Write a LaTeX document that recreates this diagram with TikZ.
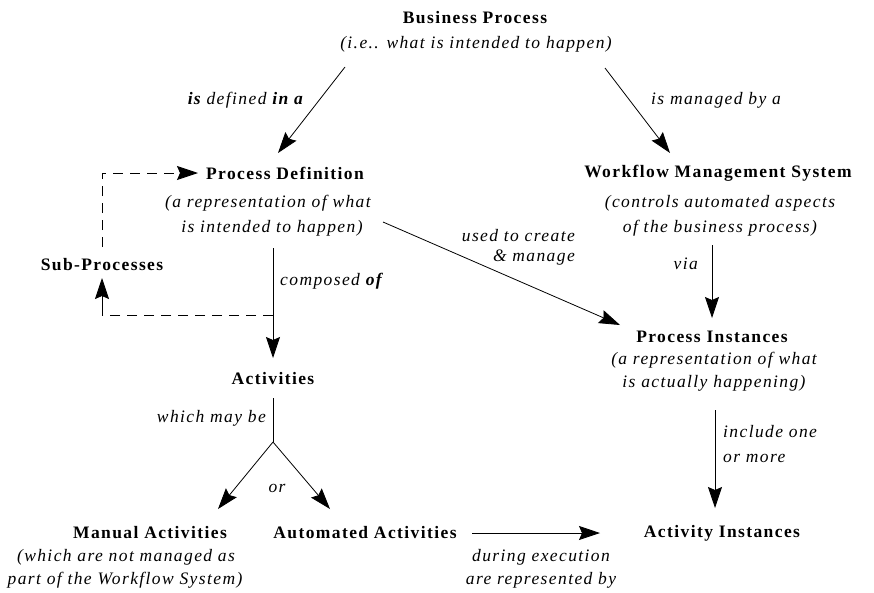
\documentclass[tikz,border=0pt]{standalone}
\usepackage{fontspec}
\setmainfont[LetterSpace=8]{Liberation Serif}
\usetikzlibrary{arrows.meta}
\begin{document}
\begin{tikzpicture}[x=1pt,y=-1pt,
  every node/.style={inner sep=0pt, font=\fontsize{17.5}{20}\selectfont},
  ttl/.style={font=\fontsize{17.5}{20}\selectfont\bfseries},
  sub/.style={font=\fontsize{17.5}{20}\selectfont\itshape},
  lbl/.style={font=\fontsize{17.5}{20}\selectfont\itshape},
  head/.tip={Stealth[length=21pt,width=14pt,inset=3pt]},
  arr/.style={line width=0.8pt, -head},
  dsh/.style={line width=0.9pt, dash pattern=on 10pt off 7pt},
  dsharr/.style={dsh, -head}]
\useasboundingbox (0,0) rectangle (874,592);

% concepts
\node[ttl] (bp) at (475,18) {Business Process};
\node[sub] (bpsub) at (476,44) {(i.e.. what is intended to happen)};
\node[ttl] (pd) at (285,173) {Process Definition};
\node[sub] (pdsub1) at (268,203) {(a representation of what};
\node[sub] (pdsub2) at (272,228) {is intended to happen)};
\node[ttl] (wms) at (718,173) {Workflow Management System};
\node[sub] (wmssub1) at (720,203) {(controls automated aspects};
\node[sub] (wmssub2) at (720,228) {of the business process)};
\node[ttl] (sp) at (102,265) {Sub-Processes};
\node[ttl] (act) at (273,379) {Activities};
\node[ttl] (pi) at (712,337) {Process Instances};
\node[sub] (pisub1) at (714,360) {(a representation of what};
\node[sub] (pisub2) at (714,383) {is actually happening)};
\node[ttl] (ma) at (150,533) {Manual Activities};
\node[sub] (masub1) at (126,557) {(which are not managed as};
\node[sub] (masub2) at (125,580) {part of the Workflow System)};
\node[ttl] (aa) at (365,533) {Automated Activities};
\node[ttl] (ai) at (722,533) {Activity Instances};

% relation labels
\node[lbl, anchor=east] (l1) at (303,100) {\textbf{is} defined \textbf{in a}};
\node[lbl, anchor=west] (l2) at (651,100) {is managed by a};
\node[lbl, anchor=east] (l3) at (575,236) {used to create};
\node[lbl, anchor=east] (l4) at (575,258) {\& manage};
\node[lbl, anchor=east] (l5) at (698,264) {via};
\node[lbl, anchor=west] (l6) at (280,281) {composed \textbf{of}};
\node[lbl, anchor=east] (l7) at (266,418) {which may be};
\node[lbl] (l8) at (277,488) {or};
\node[lbl, anchor=west] (l9) at (723,432) {include one};
\node[lbl, anchor=west] (l10) at (723,458) {or more};
\node[lbl] (l11) at (541,557) {during execution};
\node[lbl] (l12) at (541,580) {are represented by};

% connector end points
\coordinate (bpL) at (345,67);
\coordinate (bpR) at (605,68);
\coordinate (pdIn) at (278,153);
\coordinate (wmsIn) at (670,153);
\coordinate (pdOut) at (383,222);
\coordinate (piIn) at (620,325);
\coordinate (wmsOut) at (712,245);
\coordinate (piTop) at (712,318);
\coordinate (pdDown) at (273,248);
\coordinate (actTop) at (273,358);
\coordinate (tee) at (273,315);
\coordinate (spBase) at (102,315);
\coordinate (spTip) at (102,278);
\coordinate (spTop) at (102,247);
\coordinate (pdWest) at (198,173);
\coordinate (actBot) at (273,398);
\coordinate (split) at (273,442);
\coordinate (maTip) at (218,509);
\coordinate (aaTip) at (330,509);
\coordinate (aaOut) at (472,533);
\coordinate (aiIn) at (600,533);
\coordinate (piBot) at (715,410);
\coordinate (aiTop) at (715,508);

% connectors
\draw[arr] (bpL) -- (pdIn);
\draw[arr] (bpR) -- (wmsIn);
\draw[arr] (pdOut) -- (piIn);
\draw[arr] (wmsOut) -- (piTop);
\draw[arr] (pdDown) -- (actTop);
\draw[dsh] (tee) -- (spBase);
\draw[arr] (spBase) -- (spTip);
\draw[dsharr] (spTop) |- (pdWest);
\draw[line width=0.8pt] (actBot) -- (split);
\draw[arr] (split) -- (maTip);
\draw[arr] (split) -- (aaTip);
\draw[arr] (aaOut) -- (aiIn);
\draw[arr] (piBot) -- (aiTop);
\end{tikzpicture}
\end{document}
